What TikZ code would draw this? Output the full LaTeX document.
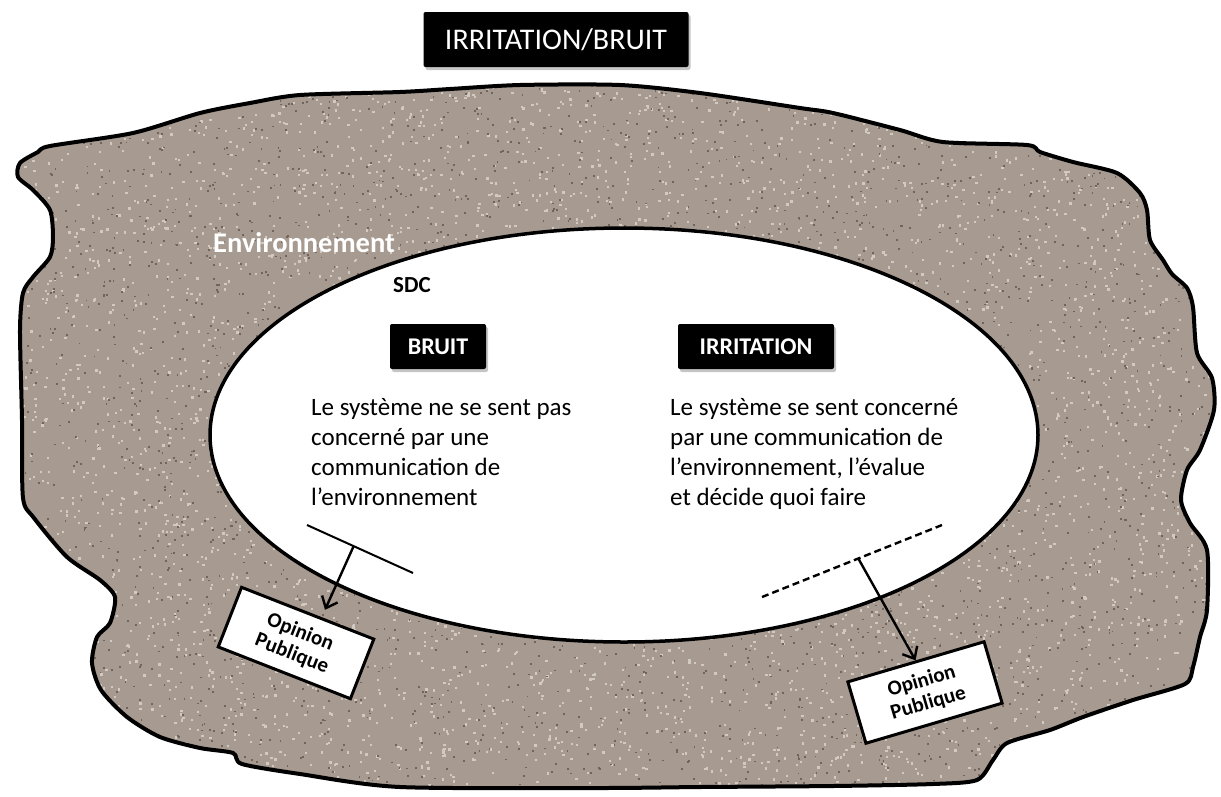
\documentclass[tikz,border=0pt]{standalone}
\usepackage{fontspec}
\setmainfont{Carlito}
\usetikzlibrary{shapes.geometric,arrows.meta,calc,shadows}
\definecolor{gravel}{RGB}{166,154,145}
\definecolor{gravellight}{RGB}{210,201,192}
\definecolor{graveldark}{RGB}{112,100,92}
\def\blobpath{plot[smooth cycle, tension=0.45] coordinates {
(50,146) (133,133) (200,113) (250,103) (300,95) (400,92) (450,89) (520,85) (620,85) (700,93) (800,108) (833,113) (900,130) (943,142) (1027,145) (1040,152) (1073,162) (1117,173) (1140,193) (1147,210) (1150,240) (1163,260) (1172,274) (1187,288) (1193,307) (1197,353) (1212,378) (1214,410) (1200,450) (1187,470) (1181,500) (1190,523) (1207,550) (1207,610) (1200,637) (1193,667) (1185,684) (1133,700) (1083,717) (1050,730) (1007,743) (993,760) (977,780) (933,784) (833,786) (700,787) (600,788) (400,787) (300,774) (242,764) (233,753) (200,748) (160,737) (127,717) (101,690) (92,663) (97,637) (110,623) (115,597) (100,580) (67,557) (34,518) (23,498) (22,420) (20,330) (23,293) (33,277) (50,257) (53,237) (50,210) (33,190) (18,177) (20,163) (38,152)}}
\begin{document}
\begin{tikzpicture}[x=1pt,y=-1pt,
  blackbox/.style={fill=black, text=white, rounded corners=2pt, inner sep=0pt,
    drop shadow={shadow xshift=2pt, shadow yshift=-3pt, opacity=0.45}},
  opbox/.style={draw=black, line width=3pt, fill=white, minimum width=142pt, minimum height=64pt,
    inner sep=0pt, align=center, font=\bfseries\fontsize{21}{23}\selectfont},
  bodytext/.style={anchor=base west, inner sep=0pt, font=\fontsize{25}{30}\selectfont},
  conn/.style={line width=2.4pt, -{Straight Barb[length=10pt,width=17pt,line width=2.4pt]}}]
\useasboundingbox (0,0) rectangle (1221,796);
% environment blob
\fill[gravel] \blobpath;
\begin{scope}
  \clip \blobpath;
  \pgfmathsetseed{7}
  \foreach \i in {1,...,5000}{
    \pgfmathsetmacro\xx{rnd*1221}
    \pgfmathsetmacro\yy{80+rnd*716}
    \fill[gravellight] (\xx,\yy) rectangle ++(2.3,2.3);
  }
  \foreach \i in {1,...,3500}{
    \pgfmathsetmacro\xx{rnd*1221}
    \pgfmathsetmacro\yy{80+rnd*716}
    \fill[graveldark] (\xx,\yy) rectangle ++(1.8,1.8);
  }
\end{scope}
\draw[line width=4pt, line join=round] \blobpath;
% system ellipse
\node[ellipse, draw=black, line width=3.5pt, fill=white, minimum width=828pt, minimum height=414pt, inner sep=0pt] (sdc) at (624,435) {};
% title
\node[blackbox, minimum width=265pt, minimum height=55pt, font=\fontsize{30}{32}\selectfont] (title) at (556,39.5) {IRRITATION/BRUIT};
% labels
\node[anchor=base west, inner sep=0pt, text=white, font=\bfseries\fontsize{28.5}{30}\selectfont] (env) at (213,252) {Environnement};
\node[anchor=base west, inner sep=0pt, font=\bfseries\fontsize{23}{25}\selectfont] (sdclabel) at (393,292) {SDC};
\node[blackbox, minimum width=96pt, minimum height=45pt, font=\bfseries\fontsize{24}{26}\selectfont] (bruit) at (438,346.5) {BRUIT};
\node[blackbox, minimum width=156pt, minimum height=45pt, font=\bfseries\fontsize{24}{26}\selectfont] (irr) at (756,346.5) {IRRITATION};
\node[bodytext] (txtb) at (311,415) {\begin{tabular}[t]{@{}l@{}}Le système ne se sent pas\\concerné par une\\communication de\\l’environnement\end{tabular}};
\node[bodytext] (txti) at (670,415) {\begin{tabular}[t]{@{}l@{}}Le système se sent concerné\\par une communication de\\l’environnement, l’évalue\\et décide quoi faire\end{tabular}};
% boundary lines
\coordinate (la) at (307,525);
\coordinate (lb) at (413,573);
\draw[line width=2pt] (la) -- (lb);
\coordinate (da) at (762,597);
\coordinate (db) at (942,525);
\draw[line width=2.4pt, dash pattern=on 7pt off 4pt] (da) -- (db);
% public opinion boxes
\node[opbox, rotate=-21.4] (op1) at (296,643) {Opinion\\Publique};
\node[opbox, rotate=16.4] (op2) at (925,692.5) {Opinion\\Publique};
% connectors
\draw[conn, shorten >=8pt] ($(la)!0.44!(lb)$) -- ($(op1.north)!0.2!(op1.north east)$);
\draw[conn] ($(da)!0.535!(db)$) -- (op2.north);
\end{tikzpicture}
\end{document}
